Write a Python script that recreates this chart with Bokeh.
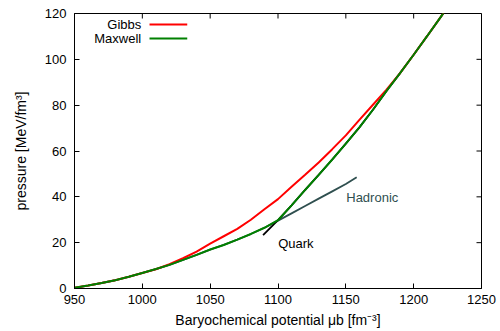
from bokeh.plotting import figure
from bokeh.models import Label, Arrow, FixedTicker, Range1d
from bokeh.embed import file_html
from bokeh.resources import INLINE

# Equation of state: pressure vs. baryochemical potential
# Hadronic branch
mu_had = [950, 960, 970, 980, 990, 1000, 1010, 1020, 1030, 1040, 1050,
          1060, 1070, 1080, 1090, 1100, 1110, 1120, 1130, 1140, 1150, 1158]
p_had = [0.3, 1.3, 2.4, 3.6, 5.1, 6.8, 8.5, 10.3, 12.5, 14.7, 17.0,
         19.0, 21.3, 23.8, 26.5, 29.6, 32.8, 36.0, 39.2, 42.4, 45.6, 48.5]

# Quark branch
mu_qrk = [1089, 1100, 1110, 1120, 1130, 1140, 1150, 1160, 1170, 1180,
          1190, 1200, 1210, 1220, 1222]
p_qrk = [23.3, 29.8, 36.3, 43.0, 49.6, 56.3, 63.2, 70.3, 78.0, 86.2,
         94.0, 102.0, 110.2, 118.5, 120.2]

# Gibbs (mixed phase) construction
mu_gibbs = [950, 960, 970, 980, 990, 1000, 1010, 1020, 1030, 1040, 1050,
            1060, 1070, 1080, 1090, 1100, 1110, 1120, 1130, 1140, 1150,
            1160, 1170, 1180, 1190, 1200, 1210, 1220, 1222]
p_gibbs = [0.3, 1.3, 2.4, 3.6, 5.1, 6.8, 8.4, 10.6, 13.2, 16.1, 19.6,
           22.8, 26.0, 30.0, 34.6, 39.0, 44.4, 49.6, 55.0, 60.8, 66.8,
           73.6, 80.2, 86.8, 94.0, 102.0, 110.2, 118.5, 120.2]

# Maxwell construction: hadronic below the crossing point, quark above it
mu_cross = 1100
mu_maxwell = [m for m in mu_had if m < mu_cross] + [m for m in mu_qrk if m >= mu_cross]
p_maxwell = [p for m, p in zip(mu_had, p_had) if m < mu_cross] + \
            [p for m, p in zip(mu_qrk, p_qrk) if m >= mu_cross]

x_ticks = [950, 1000, 1050, 1100, 1150, 1200, 1250]
y_ticks = [0, 20, 40, 60, 80, 100, 120]

X_MIN, X_MAX = 950, 1250
Y_MIN, Y_MAX = 0, 120

FONT = "Liberation Sans"

p = figure(width=500, height=331, output_backend="svg", toolbar_location=None,
           x_range=Range1d(X_MIN, X_MAX), y_range=Range1d(Y_MIN, Y_MAX),
           min_border_left=74, min_border_right=19, min_border_top=13,
           min_border_bottom=43)
p.xgrid.visible = False
p.ygrid.visible = False
p.outline_line_color = "black"
p.outline_line_width = 1
p.background_fill_color = "white"
p.border_fill_color = "white"

for ax in (p.xaxis[0], p.yaxis[0]):
    ax.major_tick_in = 5
    ax.major_tick_out = 0
    ax.minor_tick_line_color = None
    ax.axis_line_color = "black"
    ax.major_tick_line_color = "black"
    ax.major_label_text_font = FONT
    ax.major_label_text_font_size = "13px"
    ax.major_label_text_color = "black"
    ax.axis_label_text_font = FONT
    ax.axis_label_text_font_size = "14px"
    ax.axis_label_text_font_style = "normal"
    ax.axis_label_text_color = "black"

p.xaxis[0].ticker = FixedTicker(ticks=x_ticks)
p.yaxis[0].ticker = FixedTicker(ticks=y_ticks)
p.xaxis[0].axis_label = "Baryochemical potential μb [fm⁻³]"
p.yaxis[0].axis_label = "pressure [MeV/fm³]"
p.xaxis[0].major_label_standoff = 6
p.yaxis[0].major_label_standoff = 8
p.xaxis[0].axis_label_standoff = 5
p.yaxis[0].axis_label_standoff = 13

# mirrored inward ticks on the top and right edges (5 px long)
tick_dy = 5 / (288 - 13) * (Y_MAX - Y_MIN)
tick_dx = 5 / (481 - 74) * (X_MAX - X_MIN)
p.segment(x0=x_ticks, y0=[Y_MAX] * len(x_ticks),
          x1=x_ticks, y1=[Y_MAX - tick_dy] * len(x_ticks),
          line_color="black", line_width=1)
p.segment(x0=[X_MAX] * len(y_ticks), y0=y_ticks,
          x1=[X_MAX - tick_dx] * len(y_ticks), y1=y_ticks,
          line_color="black", line_width=1)

# curves
p.line(mu_had, p_had, line_color="#2f4f4f", line_width=1.8)
p.line(mu_qrk, p_qrk, line_color="black", line_width=1.8)
p.line(mu_gibbs, p_gibbs, line_color="#ff0000", line_width=2)
p.line(mu_maxwell, p_maxwell, line_color="#008000", line_width=2)

# curve annotations
p.add_layout(Label(x=1150.3, y=39.7, text="Hadronic", text_color="#2f4f4f",
                   text_font=FONT, text_font_size="13px", text_baseline="middle"))
p.add_layout(Label(x=1100.1, y=19.6, text="Quark", text_color="black",
                   text_font=FONT, text_font_size="13px", text_baseline="middle"))

# key
for name, color, yk in (("Gibbs", "#ff0000", 115.2), ("Maxwell", "#008000", 109.1)):
    p.add_layout(Label(x=999.2, y=yk, text=name, text_color="black", text_font=FONT,
                       text_font_size="13px", text_align="right", text_baseline="middle"))
    p.add_layout(Arrow(end=None, x_start=1005.3, y_start=yk, x_end=1033.1, y_end=yk,
                       line_color=color, line_width=2))

open("out.html", "w").write(file_html(p, INLINE))
